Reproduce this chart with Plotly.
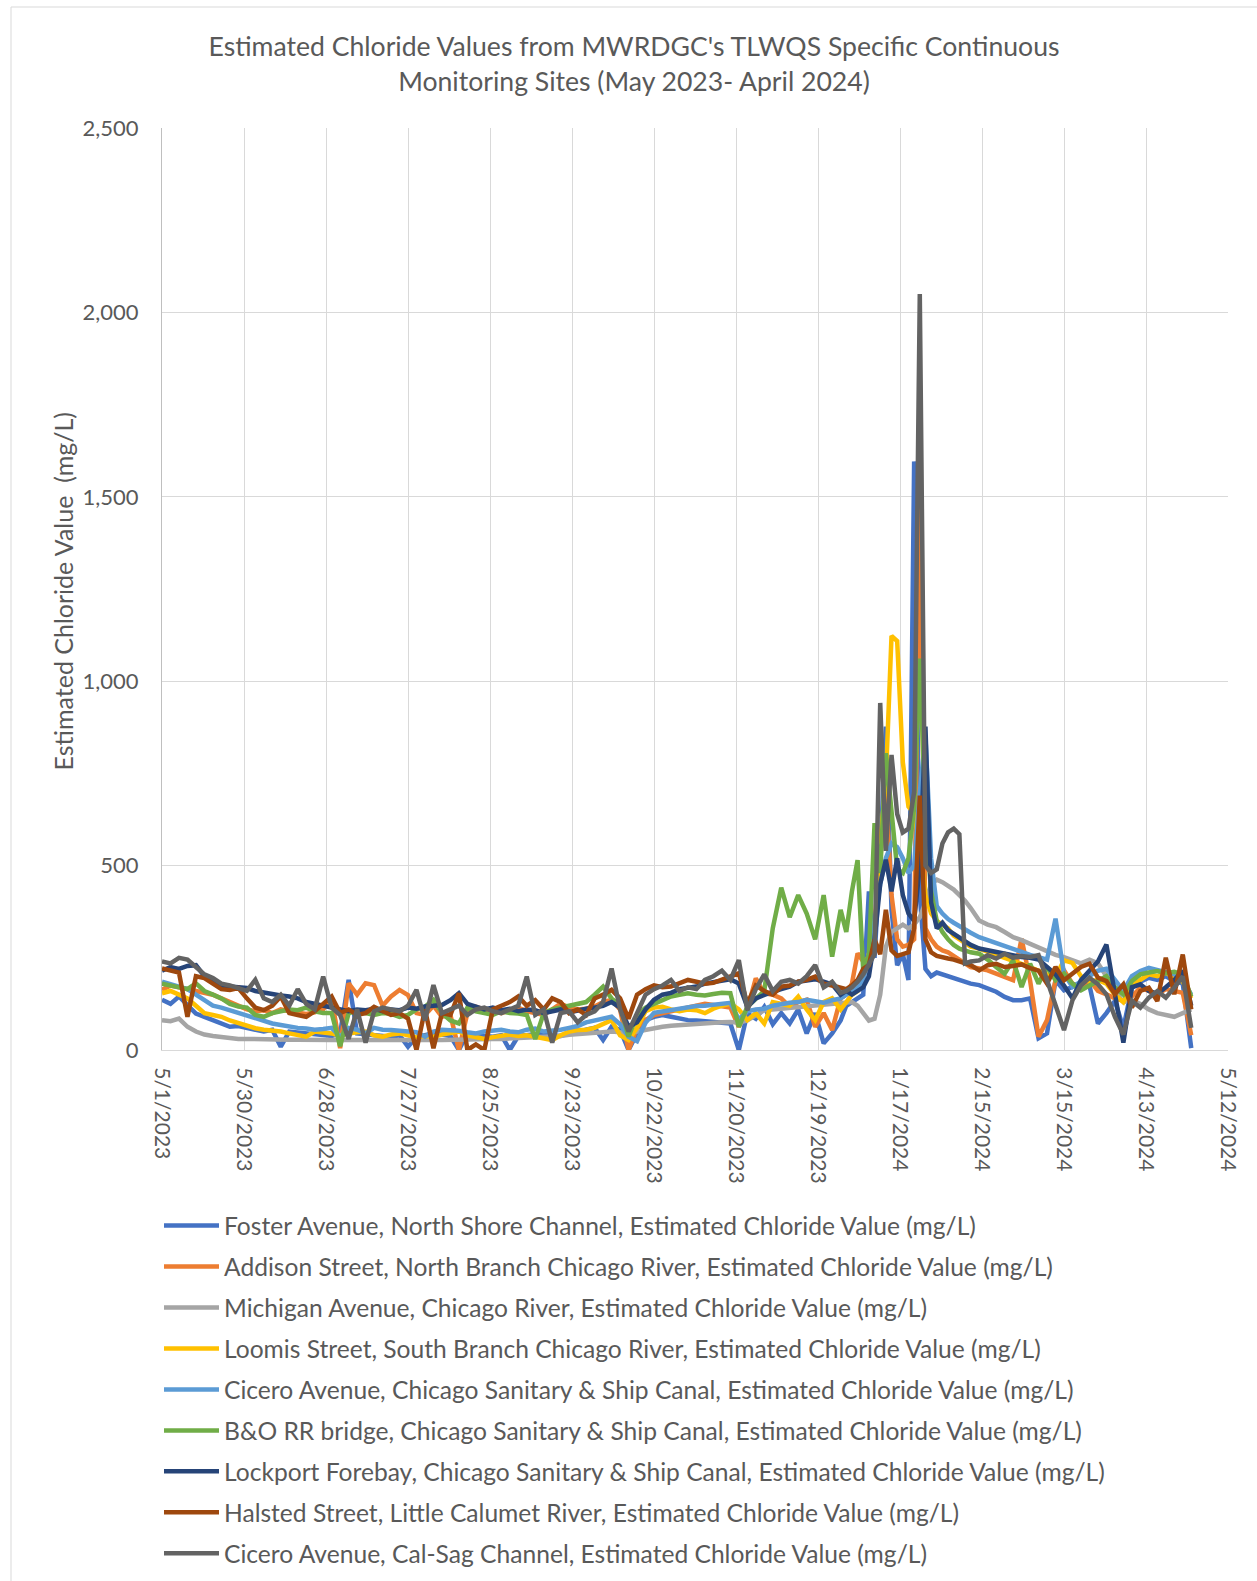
import pandas as pd
import plotly.graph_objects as go

# ---------------- data ----------------
# sampling dates: every 3 days (May-Dec), every 2 days (late Dec - mid Feb), every 3 days (Feb-Apr)
dates = (list(pd.date_range("2023-05-01", periods=80, freq="3D"))
         + list(pd.date_range("2023-12-27", periods=24, freq="2D"))
         + list(pd.date_range("2024-02-14", periods=26, freq="3D")))

foster = [136,125,145,120,99,90,81,72,63,65, 60,55,50,55,9,50,48,45,42,40,
          38,45,190,45,42,40,38,36,40,9, 35,40,45,42,38,0,45,40,38,36,
          40,0,38,40,42,45,40,38,45,50, 55,60,27,63,55,0,45,81,90,95,
          90,85,81,80,78,77,75,72,0,99, 85,117,70,100,72,110,45,100,18,45,
          80,120,130,140,150,430,250,520,877,380, 230,260,190,1596,420,220,200,210,205,198,
          192,188,185,180,
          176,168,158,144,135,135,140,32,45,189, 162,171,180,175,72,100,133,60,169,185,
          196,190,200,187,180,5]

addison = [163,175,170,165,160,155,150,140,130,120, 110,105,108,100,110,105,100,98,102,110,
           140,5,181,150,181,176,120,145,163,149, 100,95,120,90,95,0,100,117,110,105,
           100,108,115,105,100,95,110,126,115,110, 112,118,130,136,110,0,60,81,95,100,
           105,110,117,120,125,122,118,115,63,110, 194,154,150,140,117,130,136,63,100,54,
           140,150,180,262,240,250,330,500,700,420, 300,280,285,300,1473,330,300,280,270,265,
           255,245,235,225,
           221,216,207,198,189,302,189,36,81,189, 216,180,171,190,160,151,140,133,145,169,
           160,151,165,160,155,40]

michigan = [81,78,85,63,50,42,38,35,32,30, 30,29,29,28,28,28,28,27,28,28,
            27,27,28,28,27,27,28,28,27,27, 28,28,27,27,28,28,28,29,29,30,
            30,31,31,32,32,33,34,38,41,43, 45,48,50,50,48,45,50,55,60,63,
            66,68,70,72,72,74,75,76,74,80, 95,108,110,112,113,115,118,120,122,125,
            125,128,130,120,100,80,85,150,280,320, 330,340,330,340,360,400,450,462,455,445,
            435,420,405,385,
            351,340,333,320,306,298,288,280,270,258, 252,243,235,245,235,200,160,130,135,125,
            110,100,95,90,100,110]

loomis = [154,160,150,140,120,100,95,90,80,72, 65,59,55,54,50,45,40,36,50,48,
          45,38,45,48,50,40,36,42,45,40, 35,38,36,42,45,50,40,35,30,35,
          40,42,38,40,36,30,27,40,50,54, 55,60,72,81,40,27,60,105,115,117,
          110,105,110,108,100,112,120,126,110,81, 100,72,130,125,120,145,110,81,130,140,
          110,130,150,160,200,260,330,560,734,1123, 1109,780,660,640,560,420,370,350,340,330,
          310,300,290,280,
          275,265,258,250,242,235,225,215,205,200, 243,236,200,185,190,180,150,130,175,190,
          205,200,210,195,185,140]

cicero_cssc = [185,180,172,165,150,136,120,115,108,100, 92,85,78,72,68,63,60,58,55,57,
               60,36,60,55,45,60,55,54,52,50, 48,36,50,55,54,52,48,45,50,52,
               55,50,48,55,58,50,52,55,60,65, 75,81,85,90,70,36,24,74,101,105,
               110,112,115,119,120,122,125,128,83,105, 110,112,120,125,128,130,136,132,128,135,
               140,150,160,170,190,260,350,450,520,560, 550,520,480,500,700,850,520,390,370,355,
               345,335,325,318,
               306,298,288,280,272,265,258,252,245,356, 207,171,185,200,215,220,190,160,200,214,
               223,218,212,205,190,150]

bo_bridge = [180,175,170,165,181,160,150,140,125,118, 115,95,90,100,105,110,108,115,105,100,
             100,10,100,105,100,95,100,98,90,95, 110,117,136,100,80,72,115,105,100,95,
             105,100,99,95,30,100,110,115,120,126, 130,150,172,140,120,36,95,115,126,135,
             145,150,154,150,148,152,155,154,63,117, 140,160,330,440,360,420,370,300,420,253,
             380,320,430,515,215,260,615,480,805,660, 490,480,520,660,1061,630,430,350,320,300,
             285,275,270,265,
             261,245,225,207,243,171,234,180,225,189, 207,180,162,175,185,200,170,150,187,205,
             210,214,208,212,205,145]

lockport = [215,225,220,228,230,200,188,175,172,170, 168,160,155,150,148,145,140,130,125,120,
            118,112,105,110,108,112,105,110,108,115, 112,118,120,122,135,154,125,118,110,115,
            108,112,105,110,108,100,105,110,102,108, 112,115,120,130,115,63,75,110,136,150,
            155,165,168,172,180,185,188,192,180,117, 140,150,158,165,172,185,190,192,185,178,
            150,160,150,160,170,200,300,450,516,430, 520,420,370,350,500,877,400,330,345,325,
            315,305,295,285,
            275,270,268,262,258,252,250,245,225,205, 175,140,190,215,240,286,150,20,170,178,
            160,152,170,190,215,120]

halsted = [221,215,210,90,200,195,180,165,163,168, 140,115,108,120,145,100,95,90,105,125,
           145,100,110,95,100,117,105,95,100,85, 0,110,5,100,95,154,0,15,0,110,
           120,130,145,120,135,110,140,130,100,110, 95,140,150,163,140,85,150,165,175,170,
           172,180,190,185,180,182,190,200,208,126, 175,160,150,172,175,185,190,199,180,175,
           170,165,175,190,220,230,300,260,380,270, 255,260,265,330,690,300,265,255,250,248,
           245,240,235,230,
           216,230,234,225,228,232,222,215,180,225, 189,207,225,234,196,187,151,178,115,160,
           169,133,250,151,259,110]

cicero_calsag = [240,235,250,245,225,205,195,180,175,168, 160,190,140,130,150,120,165,125,110,199,
                 115,95,30,110,20,105,115,110,105,120, 163,80,176,100,110,120,95,110,115,105,
                 100,110,120,199,95,110,20,100,105,75, 95,105,130,221,110,50,100,150,165,175,
                 190,160,170,165,190,200,215,190,244,108, 165,205,160,185,190,180,200,230,170,185,
                 155,160,170,185,205,235,260,941,540,800, 640,590,600,700,2050,500,480,490,560,590,
                 600,585,235,240,
                 243,257,248,261,250,255,252,257,189,117, 54,135,175,196,178,151,90,42,133,115,
                 142,160,142,169,200,60]

series_names = [
    "Foster Avenue, North Shore Channel, Estimated Chloride Value (mg/L)",
    "Addison Street, North Branch Chicago River, Estimated Chloride Value (mg/L)",
    "Michigan Avenue, Chicago River, Estimated Chloride Value (mg/L)",
    "Loomis Street, South Branch Chicago River, Estimated Chloride Value (mg/L)",
    "Cicero Avenue, Chicago Sanitary &amp; Ship Canal, Estimated Chloride Value (mg/L)",
    "B&amp;O RR bridge, Chicago Sanitary &amp; Ship Canal, Estimated Chloride Value (mg/L)",
    "Lockport Forebay, Chicago Sanitary &amp; Ship Canal, Estimated Chloride Value (mg/L)",
    "Halsted Street, Little Calumet River, Estimated Chloride Value (mg/L)",
    "Cicero Avenue, Cal-Sag Channel, Estimated Chloride Value (mg/L)",
]
series_values = [foster, addison, michigan, loomis, cicero_cssc,
                 bo_bridge, lockport, halsted, cicero_calsag]
series_colors = ["#4472C4", "#ED7D31", "#A5A5A5", "#FFC000", "#5B9BD5",
                 "#70AD47", "#264478", "#9E480E", "#636363"]

x_tick_vals = pd.date_range("2023-05-01", periods=14, freq="29D")
x_tick_text = ["5/1/2023", "5/30/2023", "6/28/2023", "7/27/2023", "8/25/2023",
               "9/23/2023", "10/22/2023", "11/20/2023", "12/19/2023", "1/17/2024",
               "2/15/2024", "3/15/2024", "4/13/2024", "5/12/2024"]
y_tick_vals = [0, 500, 1000, 1500, 2000, 2500]

# ---------------- figure ----------------
W, H = 1257, 1581
L, R, T, B = 162, 1228, 128, 1050
FONT = "Lato"
GREY = "#595959"

def px_x(p):
    return (p - L) / (R - L)

def px_y(p):
    return (B - p) / (B - T)

fig = go.Figure()
for name, vals, col in zip(series_names, series_values, series_colors):
    fig.add_trace(go.Scatter(x=dates, y=vals, name=name, mode="lines",
                             legendgroup=name,
                             line=dict(color=col, width=4.5)))

fig.update_layout(
    width=W, height=H,
    margin=dict(l=L, r=W - R, t=T, b=H - B, autoexpand=False),
    paper_bgcolor="white", plot_bgcolor="white",
    font=dict(family=FONT, color=GREY),
    title=dict(text="Estimated Chloride Values from MWRDGC's TLWQS Specific Continuous<br>"
                    "Monitoring Sites (May 2023- April 2024)",
               x=634 / W, xref="container", xanchor="center",
               y=1 - 56 / H, yref="container", yanchor="top",
               font=dict(size=26.6, family=FONT, color=GREY)),
    showlegend=True,
    legend=dict(orientation="v", x=159 / W, xref="container", xanchor="left",
                y=1 - 1203 / H, yref="container", yanchor="top",
                font=dict(size=24.6, family=FONT, color=GREY),
                tracegroupgap=6, itemwidth=55, bgcolor="rgba(0,0,0,0)"),
    xaxis=dict(type="date", range=["2023-05-01", "2024-05-12"],
               tickmode="array", tickvals=x_tick_vals, ticktext=x_tick_text,
               tickangle=90, tickfont=dict(size=21, family=FONT, color=GREY),
               showgrid=True, gridcolor="#D9D9D9", gridwidth=1,
               showline=True, linecolor="#D9D9D9", linewidth=1,
               ticks="", ticklabelstandoff=12, zeroline=False),
    yaxis=dict(range=[0, 2500], tickmode="array", tickvals=y_tick_vals,
               tickformat=",", tickfont=dict(size=22, family=FONT, color=GREY),
               showgrid=True, gridcolor="#D9D9D9", gridwidth=1,
               showline=True, linecolor="#BFBFBF", linewidth=1,
               ticks="", ticklabelstandoff=18, zeroline=False),
    annotations=[dict(text="Estimated Chloride Value &nbsp;(mg/L)",
                      xref="paper", yref="paper", x=px_x(62.5), y=px_y(591),
                      xanchor="center", yanchor="middle", textangle=-90,
                      showarrow=False, font=dict(size=25, family=FONT, color=GREY))],
    shapes=[dict(type="line", xref="paper", yref="paper",
                 x0=px_x(11), x1=px_x(11), y0=px_y(7), y1=px_y(H + 5),
                 line=dict(color="#D9D9D9", width=1), layer="below"),
            dict(type="line", xref="paper", yref="paper",
                 x0=px_x(11), x1=px_x(W + 5), y0=px_y(7), y1=px_y(7),
                 line=dict(color="#D9D9D9", width=1), layer="below")],
)

fig.write_html("out.html", config={"displayModeBar": False},
               post_script="document.body.style.margin='0';")
